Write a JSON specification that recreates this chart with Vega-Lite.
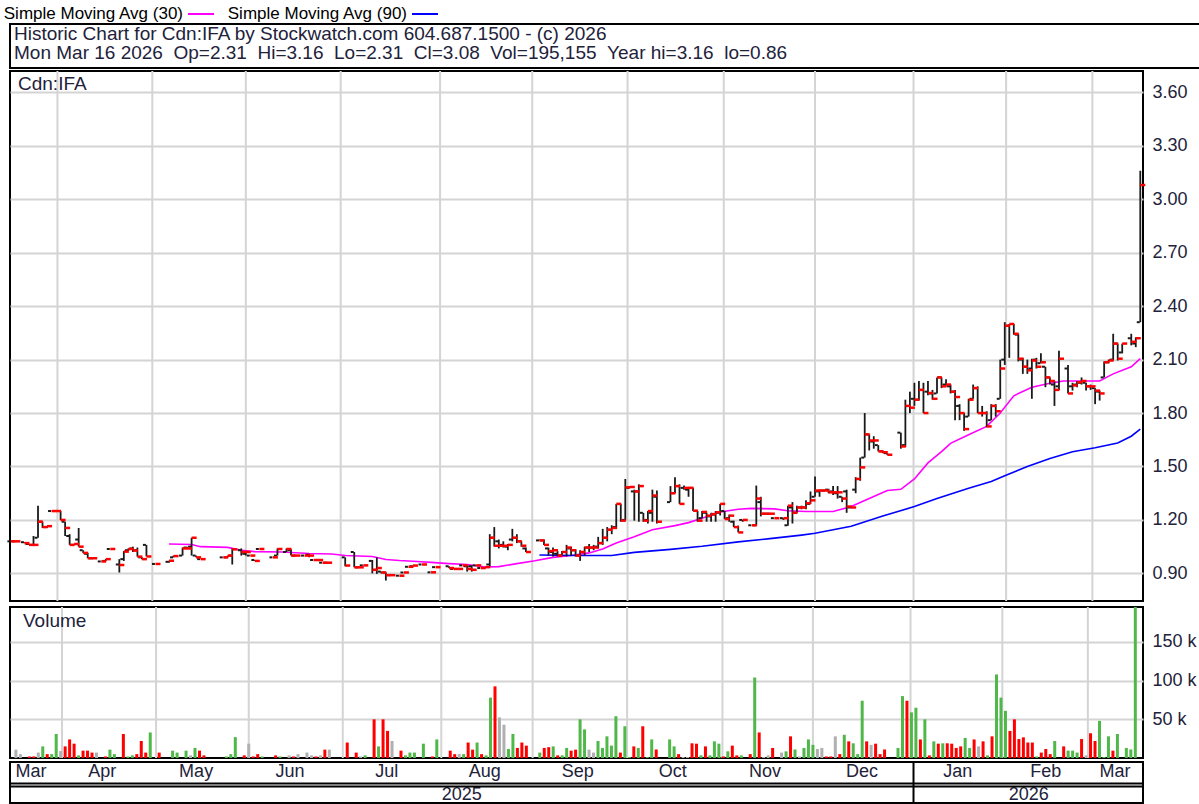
{
  "$schema": "https://vega.github.io/schema/vega-lite/v6.json",
  "background": "white",
  "padding": {"left": 6, "top": 0, "right": 0, "bottom": 0},
  "spacing": 2,
  "config": {
    "font": "Liberation Sans",
    "view": {"stroke": "#000000", "strokeWidth": 2},
    "axis": {"labelFont": "Liberation Sans", "labelFontSize": 18, "labelColor": "#22223a", "ticks": false, "domain": false, "gridColor": "#d4d4d4", "gridWidth": 2, "labelPadding": 9, "title": null, "labelOverlap": false, "labelFlush": false},
    "legend": {"labelFont": "Liberation Sans"}
  },
  "datasets": {
    "bars": [
      {"t":0,"o":1.08,"h":1.08,"l":1.08,"c":1.08,"v":10800,"d":"n"},
      {"t":1,"o":1.08,"h":1.08,"l":1.08,"c":1.08,"v":5000,"d":"n"},
      {"t":3,"o":1.075,"h":1.075,"l":1.07,"c":1.07,"v":2000,"d":"d"},
      {"t":4,"o":1.065,"h":1.065,"l":1.06,"c":1.06,"v":2000,"d":"d"},
      {"t":5,"o":1.06,"h":1.11,"l":1.06,"c":1.06,"v":7000,"d":"n"},
      {"t":6,"o":1.10,"h":1.28,"l":1.10,"c":1.19,"v":15000,"d":"u"},
      {"t":7,"o":1.19,"h":1.19,"l":1.155,"c":1.16,"v":5000,"d":"d"},
      {"t":8,"o":1.16,"h":1.165,"l":1.155,"c":1.165,"v":5000,"d":"u"},
      {"t":9,"o":1.25,"h":1.25,"l":1.25,"c":1.25,"v":31000,"d":"u"},
      {"t":10,"o":1.25,"h":1.25,"l":1.25,"c":1.25,"v":9000,"d":"n"},
      {"t":11,"o":1.25,"h":1.25,"l":1.20,"c":1.20,"v":15000,"d":"d"},
      {"t":12,"o":1.19,"h":1.19,"l":1.11,"c":1.155,"v":24000,"d":"d"},
      {"t":13,"o":1.11,"h":1.12,"l":1.06,"c":1.06,"v":18500,"d":"d"},
      {"t":14,"o":1.06,"h":1.065,"l":1.06,"c":1.065,"v":3400,"d":"u"},
      {"t":15,"o":1.09,"h":1.155,"l":1.05,"c":1.05,"v":9500,"d":"d"},
      {"t":16,"o":1.03,"h":1.03,"l":1.015,"c":1.015,"v":9500,"d":"d"},
      {"t":17,"o":1.01,"h":1.015,"l":0.985,"c":0.985,"v":7000,"d":"d"},
      {"t":18,"o":0.985,"h":0.985,"l":0.98,"c":0.985,"v":7000,"d":"n"},
      {"t":20,"o":0.967,"h":0.967,"l":0.967,"c":0.967,"v":2000,"d":"d"},
      {"t":21,"o":0.97,"h":0.98,"l":0.97,"c":0.98,"v":10800,"d":"u"},
      {"t":22,"o":1.037,"h":1.037,"l":1.037,"c":1.037,"v":5000,"d":"u"},
      {"t":24,"o":0.95,"h":0.98,"l":0.905,"c":0.947,"v":31000,"d":"d"},
      {"t":25,"o":0.98,"h":1.025,"l":0.97,"c":1.022,"v":2000,"d":"u"},
      {"t":26,"o":1.03,"h":1.04,"l":1.025,"c":1.037,"v":3400,"d":"u"},
      {"t":27,"o":1.04,"h":1.05,"l":1.02,"c":1.028,"v":5000,"d":"d"},
      {"t":28,"o":1.03,"h":1.045,"l":0.994,"c":0.994,"v":22000,"d":"d"},
      {"t":29,"o":0.99,"h":0.99,"l":0.98,"c":0.98,"v":7000,"d":"d"},
      {"t":30,"o":1.06,"h":1.06,"l":0.995,"c":0.995,"v":33000,"d":"u"},
      {"t":32,"o":0.953,"h":0.953,"l":0.953,"c":0.953,"v":7000,"d":"d"},
      {"t":35,"o":0.965,"h":0.971,"l":0.96,"c":0.971,"v":9500,"d":"u"},
      {"t":36,"o":0.99,"h":1.0,"l":0.99,"c":0.997,"v":7000,"d":"u"},
      {"t":38,"o":1.0,"h":1.045,"l":1.0,"c":1.04,"v":9500,"d":"u"},
      {"t":39,"o":1.045,"h":1.05,"l":1.04,"c":1.04,"v":3400,"d":"n"},
      {"t":40,"o":1.05,"h":1.10,"l":1.0,"c":1.10,"v":13000,"d":"u"},
      {"t":41,"o":1.0,"h":1.0,"l":0.99,"c":0.99,"v":9500,"d":"d"},
      {"t":42,"o":0.98,"h":0.98,"l":0.98,"c":0.98,"v":3400,"d":"d"},
      {"t":47,"o":0.99,"h":0.99,"l":0.99,"c":0.99,"v":2000,"d":"u"},
      {"t":48,"o":0.99,"h":1.0,"l":0.99,"c":1.0,"v":5000,"d":"u"},
      {"t":49,"o":1.0,"h":1.04,"l":0.95,"c":1.035,"v":27000,"d":"u"},
      {"t":51,"o":1.03,"h":1.04,"l":1.0,"c":1.02,"v":3400,"d":"d"},
      {"t":52,"o":1.01,"h":1.02,"l":1.0,"c":1.02,"v":18500,"d":"n"},
      {"t":53,"o":1.0,"h":1.0,"l":1.0,"c":1.0,"v":2000,"d":"d"},
      {"t":54,"o":0.975,"h":0.975,"l":0.97,"c":0.97,"v":5000,"d":"d"},
      {"t":55,"o":1.037,"h":1.037,"l":1.037,"c":1.037,"v":2000,"d":"u"},
      {"t":58,"o":0.99,"h":0.99,"l":0.99,"c":0.99,"v":3400,"d":"d"},
      {"t":59,"o":1.0,"h":1.04,"l":1.0,"c":1.037,"v":2000,"d":"u"},
      {"t":61,"o":1.02,"h":1.04,"l":1.02,"c":1.037,"v":3400,"d":"n"},
      {"t":62,"o":1.03,"h":1.035,"l":1.0,"c":1.0,"v":2000,"d":"d"},
      {"t":63,"o":1.0,"h":1.0,"l":1.0,"c":1.0,"v":5000,"d":"n"},
      {"t":65,"o":1.0,"h":1.0,"l":1.0,"c":1.0,"v":7000,"d":"n"},
      {"t":66,"o":1.005,"h":1.01,"l":0.99,"c":1.0,"v":3400,"d":"n"},
      {"t":67,"o":0.975,"h":0.975,"l":0.975,"c":0.975,"v":2000,"d":"d"},
      {"t":68,"o":0.975,"h":0.975,"l":0.97,"c":0.975,"v":3400,"d":"n"},
      {"t":69,"o":0.96,"h":0.96,"l":0.96,"c":0.96,"v":10800,"d":"d"},
      {"t":70,"o":0.96,"h":0.96,"l":0.953,"c":0.96,"v":10800,"d":"n"},
      {"t":74,"o":0.99,"h":0.99,"l":0.94,"c":0.944,"v":20000,"d":"d"},
      {"t":76,"o":1.02,"h":1.02,"l":0.934,"c":0.934,"v":7000,"d":"d"},
      {"t":77,"o":0.934,"h":0.934,"l":0.934,"c":0.934,"v":2000,"d":"n"},
      {"t":78,"o":0.945,"h":0.945,"l":0.945,"c":0.945,"v":3400,"d":"u"},
      {"t":80,"o":0.97,"h":0.975,"l":0.90,"c":0.92,"v":50000,"d":"d"},
      {"t":81,"o":0.92,"h":0.99,"l":0.897,"c":0.93,"v":15000,"d":"u"},
      {"t":82,"o":0.91,"h":0.91,"l":0.90,"c":0.905,"v":50000,"d":"d"},
      {"t":83,"o":0.905,"h":0.905,"l":0.86,"c":0.89,"v":35000,"d":"d"},
      {"t":84,"o":0.89,"h":0.897,"l":0.89,"c":0.89,"v":22000,"d":"n"},
      {"t":86,"o":0.887,"h":0.887,"l":0.887,"c":0.887,"v":9500,"d":"d"},
      {"t":87,"o":0.905,"h":0.905,"l":0.905,"c":0.905,"v":3400,"d":"u"},
      {"t":88,"o":0.937,"h":0.937,"l":0.937,"c":0.937,"v":7000,"d":"u"},
      {"t":89,"o":0.94,"h":0.945,"l":0.94,"c":0.944,"v":7000,"d":"u"},
      {"t":91,"o":0.95,"h":0.95,"l":0.95,"c":0.95,"v":18500,"d":"u"},
      {"t":93,"o":0.906,"h":0.906,"l":0.906,"c":0.906,"v":2000,"d":"d"},
      {"t":94,"o":0.935,"h":0.935,"l":0.935,"c":0.935,"v":24000,"d":"u"},
      {"t":97,"o":0.94,"h":0.94,"l":0.93,"c":0.93,"v":9500,"d":"d"},
      {"t":98,"o":0.925,"h":0.925,"l":0.925,"c":0.925,"v":5000,"d":"d"},
      {"t":99,"o":0.925,"h":0.925,"l":0.925,"c":0.925,"v":5000,"d":"n"},
      {"t":100,"o":0.945,"h":0.945,"l":0.945,"c":0.945,"v":5000,"d":"u"},
      {"t":101,"o":0.94,"h":0.945,"l":0.91,"c":0.925,"v":20000,"d":"d"},
      {"t":102,"o":0.94,"h":0.945,"l":0.91,"c":0.92,"v":10800,"d":"d"},
      {"t":103,"o":0.945,"h":0.945,"l":0.945,"c":0.945,"v":20000,"d":"u"},
      {"t":104,"o":0.93,"h":0.93,"l":0.93,"c":0.93,"v":5000,"d":"d"},
      {"t":105,"o":0.93,"h":0.935,"l":0.93,"c":0.935,"v":3400,"d":"u"},
      {"t":106,"o":0.95,"h":1.12,"l":0.94,"c":1.10,"v":78000,"d":"u"},
      {"t":107,"o":1.10,"h":1.16,"l":1.05,"c":1.055,"v":92600,"d":"d"},
      {"t":108,"o":1.08,"h":1.09,"l":1.04,"c":1.055,"v":52500,"d":"n"},
      {"t":109,"o":1.06,"h":1.08,"l":1.045,"c":1.055,"v":43000,"d":"n"},
      {"t":110,"o":1.05,"h":1.065,"l":1.03,"c":1.06,"v":11600,"d":"u"},
      {"t":111,"o":1.09,"h":1.15,"l":1.08,"c":1.10,"v":31000,"d":"u"},
      {"t":112,"o":1.10,"h":1.12,"l":1.07,"c":1.08,"v":13000,"d":"d"},
      {"t":113,"o":1.08,"h":1.08,"l":1.05,"c":1.055,"v":20000,"d":"d"},
      {"t":114,"o":1.04,"h":1.045,"l":1.02,"c":1.02,"v":16000,"d":"d"},
      {"t":117,"o":1.085,"h":1.09,"l":1.085,"c":1.085,"v":7000,"d":"u"},
      {"t":118,"o":1.085,"h":1.09,"l":1.06,"c":1.06,"v":13000,"d":"d"},
      {"t":119,"o":1.04,"h":1.045,"l":1.0,"c":1.025,"v":14000,"d":"d"},
      {"t":120,"o":1.02,"h":1.045,"l":0.995,"c":1.03,"v":15000,"d":"u"},
      {"t":121,"o":1.01,"h":1.025,"l":0.995,"c":1.0,"v":3400,"d":"d"},
      {"t":122,"o":1.0,"h":1.025,"l":1.0,"c":1.02,"v":3400,"d":"u"},
      {"t":123,"o":1.02,"h":1.06,"l":0.995,"c":1.045,"v":13000,"d":"u"},
      {"t":124,"o":1.04,"h":1.05,"l":1.0,"c":1.03,"v":9500,"d":"d"},
      {"t":125,"o":1.03,"h":1.035,"l":0.995,"c":1.0,"v":10800,"d":"d"},
      {"t":126,"o":1.0,"h":1.03,"l":0.97,"c":1.02,"v":50000,"d":"u"},
      {"t":127,"o":1.02,"h":1.05,"l":1.0,"c":1.045,"v":37000,"d":"u"},
      {"t":128,"o":1.045,"h":1.065,"l":1.02,"c":1.045,"v":10800,"d":"n"},
      {"t":129,"o":1.045,"h":1.06,"l":1.03,"c":1.045,"v":7000,"d":"n"},
      {"t":130,"o":1.05,"h":1.105,"l":1.04,"c":1.07,"v":22000,"d":"u"},
      {"t":131,"o":1.07,"h":1.15,"l":1.06,"c":1.10,"v":13000,"d":"u"},
      {"t":132,"o":1.10,"h":1.16,"l":1.08,"c":1.145,"v":28000,"d":"u"},
      {"t":133,"o":1.145,"h":1.17,"l":1.12,"c":1.155,"v":16000,"d":"u"},
      {"t":134,"o":1.16,"h":1.29,"l":1.15,"c":1.29,"v":54000,"d":"u"},
      {"t":135,"o":1.29,"h":1.29,"l":1.19,"c":1.196,"v":7000,"d":"d"},
      {"t":136,"o":1.20,"h":1.43,"l":1.196,"c":1.383,"v":41000,"d":"u"},
      {"t":137,"o":1.38,"h":1.39,"l":1.38,"c":1.385,"v":1300,"d":"u"},
      {"t":138,"o":1.36,"h":1.37,"l":1.196,"c":1.36,"v":15000,"d":"d"},
      {"t":139,"o":1.36,"h":1.40,"l":1.19,"c":1.39,"v":13000,"d":"u"},
      {"t":140,"o":1.24,"h":1.24,"l":1.19,"c":1.196,"v":41000,"d":"d"},
      {"t":141,"o":1.20,"h":1.25,"l":1.18,"c":1.25,"v":1300,"d":"u"},
      {"t":142,"o":1.24,"h":1.37,"l":1.19,"c":1.337,"v":24000,"d":"u"},
      {"t":143,"o":1.33,"h":1.365,"l":1.18,"c":1.19,"v":11000,"d":"d"},
      {"t":146,"o":1.30,"h":1.39,"l":1.30,"c":1.35,"v":24000,"d":"u"},
      {"t":147,"o":1.35,"h":1.44,"l":1.35,"c":1.39,"v":15000,"d":"u"},
      {"t":148,"o":1.39,"h":1.40,"l":1.29,"c":1.29,"v":5000,"d":"d"},
      {"t":149,"o":1.38,"h":1.393,"l":1.37,"c":1.38,"v":1300,"d":"n"},
      {"t":150,"o":1.37,"h":1.383,"l":1.33,"c":1.38,"v":1300,"d":"n"},
      {"t":151,"o":1.38,"h":1.38,"l":1.25,"c":1.252,"v":19000,"d":"d"},
      {"t":152,"o":1.25,"h":1.25,"l":1.19,"c":1.196,"v":18500,"d":"d"},
      {"t":153,"o":1.21,"h":1.25,"l":1.21,"c":1.245,"v":3400,"d":"u"},
      {"t":154,"o":1.24,"h":1.24,"l":1.19,"c":1.224,"v":15000,"d":"d"},
      {"t":155,"o":1.22,"h":1.24,"l":1.19,"c":1.233,"v":3400,"d":"u"},
      {"t":156,"o":1.23,"h":1.25,"l":1.19,"c":1.243,"v":21500,"d":"u"},
      {"t":157,"o":1.24,"h":1.29,"l":1.225,"c":1.29,"v":18500,"d":"u"},
      {"t":158,"o":1.25,"h":1.25,"l":1.205,"c":1.205,"v":2000,"d":"d"},
      {"t":159,"o":1.21,"h":1.23,"l":1.19,"c":1.224,"v":8600,"d":"u"},
      {"t":160,"o":1.19,"h":1.196,"l":1.16,"c":1.16,"v":16000,"d":"d"},
      {"t":161,"o":1.16,"h":1.168,"l":1.13,"c":1.13,"v":3400,"d":"d"},
      {"t":162,"o":1.20,"h":1.20,"l":1.19,"c":1.20,"v":3400,"d":"u"},
      {"t":164,"o":1.17,"h":1.17,"l":1.17,"c":1.17,"v":5000,"d":"d"},
      {"t":165,"o":1.17,"h":1.393,"l":1.168,"c":1.32,"v":104000,"d":"u"},
      {"t":166,"o":1.30,"h":1.33,"l":1.22,"c":1.235,"v":33000,"d":"d"},
      {"t":167,"o":1.235,"h":1.24,"l":1.23,"c":1.235,"v":1300,"d":"n"},
      {"t":168,"o":1.235,"h":1.235,"l":1.235,"c":1.235,"v":3400,"d":"n"},
      {"t":169,"o":1.21,"h":1.21,"l":1.21,"c":1.21,"v":13000,"d":"d"},
      {"t":171,"o":1.21,"h":1.21,"l":1.20,"c":1.21,"v":7000,"d":"n"},
      {"t":172,"o":1.17,"h":1.28,"l":1.168,"c":1.28,"v":8600,"d":"u"},
      {"t":173,"o":1.27,"h":1.30,"l":1.18,"c":1.24,"v":28000,"d":"d"},
      {"t":174,"o":1.24,"h":1.28,"l":1.24,"c":1.27,"v":11000,"d":"u"},
      {"t":175,"o":1.27,"h":1.28,"l":1.26,"c":1.27,"v":2000,"d":"n"},
      {"t":176,"o":1.27,"h":1.31,"l":1.26,"c":1.294,"v":13000,"d":"u"},
      {"t":177,"o":1.29,"h":1.36,"l":1.29,"c":1.31,"v":24000,"d":"u"},
      {"t":178,"o":1.33,"h":1.444,"l":1.33,"c":1.365,"v":17000,"d":"u"},
      {"t":179,"o":1.36,"h":1.37,"l":1.33,"c":1.365,"v":11600,"d":"n"},
      {"t":180,"o":1.365,"h":1.37,"l":1.36,"c":1.365,"v":13000,"d":"n"},
      {"t":181,"o":1.37,"h":1.375,"l":1.35,"c":1.355,"v":2000,"d":"d"},
      {"t":182,"o":1.36,"h":1.39,"l":1.34,"c":1.355,"v":2000,"d":"d"},
      {"t":183,"o":1.35,"h":1.39,"l":1.32,"c":1.355,"v":28000,"d":"n"},
      {"t":184,"o":1.33,"h":1.33,"l":1.30,"c":1.32,"v":5000,"d":"d"},
      {"t":185,"o":1.36,"h":1.37,"l":1.24,"c":1.275,"v":30000,"d":"u"},
      {"t":186,"o":1.27,"h":1.28,"l":1.265,"c":1.27,"v":21500,"d":"d"},
      {"t":187,"o":1.37,"h":1.44,"l":1.35,"c":1.43,"v":19000,"d":"u"},
      {"t":188,"o":1.43,"h":1.55,"l":1.42,"c":1.495,"v":5000,"d":"u"},
      {"t":189,"o":1.55,"h":1.80,"l":1.55,"c":1.68,"v":74000,"d":"u"},
      {"t":190,"o":1.68,"h":1.68,"l":1.59,"c":1.646,"v":21500,"d":"d"},
      {"t":191,"o":1.64,"h":1.67,"l":1.60,"c":1.646,"v":17000,"d":"n"},
      {"t":192,"o":1.62,"h":1.62,"l":1.585,"c":1.585,"v":18500,"d":"d"},
      {"t":193,"o":1.585,"h":1.59,"l":1.575,"c":1.58,"v":5000,"d":"d"},
      {"t":194,"o":1.575,"h":1.575,"l":1.565,"c":1.566,"v":11000,"d":"d"},
      {"t":197,"o":1.69,"h":1.69,"l":1.60,"c":1.6125,"v":13000,"d":"u"},
      {"t":198,"o":1.62,"h":1.875,"l":1.61,"c":1.84,"v":80000,"d":"u"},
      {"t":199,"o":1.84,"h":1.92,"l":1.80,"c":1.83,"v":74000,"d":"d"},
      {"t":200,"o":1.88,"h":1.97,"l":1.84,"c":1.875,"v":59000,"d":"u"},
      {"t":201,"o":1.875,"h":1.98,"l":1.87,"c":1.93,"v":65000,"d":"u"},
      {"t":202,"o":1.93,"h":1.97,"l":1.80,"c":1.80,"v":24000,"d":"d"},
      {"t":203,"o":1.92,"h":1.98,"l":1.90,"c":1.9125,"v":50000,"d":"u"},
      {"t":204,"o":1.91,"h":1.93,"l":1.875,"c":1.88,"v":3400,"d":"d"},
      {"t":205,"o":1.91,"h":2.0,"l":1.91,"c":2.0,"v":21500,"d":"u"},
      {"t":206,"o":2.0,"h":2.0,"l":1.94,"c":1.95,"v":18500,"d":"d"},
      {"t":207,"o":1.96,"h":1.99,"l":1.95,"c":1.96,"v":19000,"d":"u"},
      {"t":208,"o":1.95,"h":1.96,"l":1.91,"c":1.92,"v":19000,"d":"d"},
      {"t":209,"o":1.92,"h":1.93,"l":1.76,"c":1.89,"v":18500,"d":"d"},
      {"t":210,"o":1.84,"h":1.85,"l":1.76,"c":1.80,"v":13000,"d":"d"},
      {"t":211,"o":1.80,"h":1.80,"l":1.70,"c":1.71,"v":15000,"d":"d"},
      {"t":212,"o":1.78,"h":1.88,"l":1.78,"c":1.875,"v":26000,"d":"u"},
      {"t":213,"o":1.88,"h":1.96,"l":1.88,"c":1.94,"v":13000,"d":"u"},
      {"t":214,"o":1.94,"h":1.95,"l":1.80,"c":1.80,"v":24000,"d":"d"},
      {"t":215,"o":1.80,"h":1.84,"l":1.78,"c":1.80,"v":15000,"d":"n"},
      {"t":216,"o":1.80,"h":1.81,"l":1.72,"c":1.725,"v":21500,"d":"d"},
      {"t":217,"o":1.76,"h":1.85,"l":1.76,"c":1.84,"v":3400,"d":"u"},
      {"t":218,"o":1.84,"h":1.85,"l":1.78,"c":1.81,"v":28000,"d":"d"},
      {"t":219,"o":1.88,"h":2.10,"l":1.88,"c":2.05,"v":108000,"d":"u"},
      {"t":220,"o":2.10,"h":2.31,"l":2.07,"c":2.29,"v":78000,"d":"u"},
      {"t":221,"o":2.29,"h":2.30,"l":2.11,"c":2.30,"v":61000,"d":"u"},
      {"t":222,"o":2.30,"h":2.30,"l":2.24,"c":2.245,"v":35000,"d":"d"},
      {"t":223,"o":2.24,"h":2.245,"l":2.09,"c":2.105,"v":50000,"d":"d"},
      {"t":224,"o":2.10,"h":2.11,"l":2.02,"c":2.06,"v":24500,"d":"d"},
      {"t":225,"o":2.06,"h":2.10,"l":2.02,"c":2.04,"v":26700,"d":"d"},
      {"t":226,"o":2.05,"h":2.105,"l":1.88,"c":2.095,"v":20000,"d":"d"},
      {"t":227,"o":2.10,"h":2.11,"l":2.05,"c":2.06,"v":20000,"d":"d"},
      {"t":228,"o":2.08,"h":2.135,"l":2.08,"c":2.085,"v":2000,"d":"u"},
      {"t":229,"o":2.06,"h":2.06,"l":1.945,"c":2.0,"v":7000,"d":"d"},
      {"t":230,"o":2.0,"h":2.0,"l":1.96,"c":1.98,"v":11600,"d":"d"},
      {"t":231,"o":1.96,"h":1.98,"l":1.84,"c":1.93,"v":5000,"d":"d"},
      {"t":232,"o":1.95,"h":2.15,"l":1.93,"c":2.105,"v":22000,"d":"u"},
      {"t":234,"o":2.05,"h":2.07,"l":1.91,"c":1.91,"v":15000,"d":"d"},
      {"t":235,"o":1.95,"h":1.97,"l":1.926,"c":1.955,"v":9500,"d":"u"},
      {"t":236,"o":1.96,"h":1.98,"l":1.945,"c":1.973,"v":9500,"d":"u"},
      {"t":237,"o":1.97,"h":2.0,"l":1.96,"c":1.98,"v":7000,"d":"u"},
      {"t":238,"o":1.97,"h":1.97,"l":1.926,"c":1.95,"v":24500,"d":"d"},
      {"t":239,"o":1.95,"h":1.96,"l":1.93,"c":1.95,"v":3400,"d":"n"},
      {"t":240,"o":1.94,"h":1.94,"l":1.85,"c":1.926,"v":32000,"d":"d"},
      {"t":241,"o":1.92,"h":1.926,"l":1.87,"c":1.91,"v":22000,"d":"d"},
      {"t":242,"o":2.0,"h":2.09,"l":2.0,"c":2.085,"v":48000,"d":"u"},
      {"t":243,"o":2.085,"h":2.10,"l":2.08,"c":2.095,"v":1300,"d":"u"},
      {"t":244,"o":2.10,"h":2.245,"l":2.095,"c":2.19,"v":28000,"d":"u"},
      {"t":245,"o":2.19,"h":2.19,"l":2.095,"c":2.105,"v":9500,"d":"d"},
      {"t":246,"o":2.14,"h":2.19,"l":2.135,"c":2.19,"v":31000,"d":"u"},
      {"t":248,"o":2.22,"h":2.245,"l":2.18,"c":2.20,"v":13000,"d":"u"},
      {"t":249,"o":2.19,"h":2.225,"l":2.17,"c":2.22,"v":11000,"d":"u"},
      {"t":250,"o":2.31,"h":3.16,"l":2.31,"c":3.08,"v":195155,"d":"u"}
    ],
    "sma": [
      {"t":35,"s":"Simple Moving Avg (30)","p":1.065},{"t":40,"s":"Simple Moving Avg (30)","p":1.062},{"t":42,"s":"Simple Moving Avg (30)","p":1.05},{"t":48,"s":"Simple Moving Avg (30)","p":1.046},{"t":51,"s":"Simple Moving Avg (30)","p":1.03},{"t":54,"s":"Simple Moving Avg (30)","p":1.022},{"t":60,"s":"Simple Moving Avg (30)","p":1.02},{"t":66,"s":"Simple Moving Avg (30)","p":1.012},{"t":71,"s":"Simple Moving Avg (30)","p":1.009},{"t":74,"s":"Simple Moving Avg (30)","p":1.0},{"t":80,"s":"Simple Moving Avg (30)","p":0.995},{"t":83,"s":"Simple Moving Avg (30)","p":0.978},{"t":86,"s":"Simple Moving Avg (30)","p":0.972},{"t":89,"s":"Simple Moving Avg (30)","p":0.968},{"t":93,"s":"Simple Moving Avg (30)","p":0.962},{"t":97,"s":"Simple Moving Avg (30)","p":0.955},{"t":101,"s":"Simple Moving Avg (30)","p":0.95},{"t":105,"s":"Simple Moving Avg (30)","p":0.936},{"t":108,"s":"Simple Moving Avg (30)","p":0.938},{"t":112,"s":"Simple Moving Avg (30)","p":0.955},{"t":116,"s":"Simple Moving Avg (30)","p":0.971},{"t":120,"s":"Simple Moving Avg (30)","p":0.99},{"t":124,"s":"Simple Moving Avg (30)","p":1.0},{"t":128,"s":"Simple Moving Avg (30)","p":1.015},{"t":131,"s":"Simple Moving Avg (30)","p":1.037},{"t":134,"s":"Simple Moving Avg (30)","p":1.07},{"t":138,"s":"Simple Moving Avg (30)","p":1.105},{"t":142,"s":"Simple Moving Avg (30)","p":1.145},{"t":147,"s":"Simple Moving Avg (30)","p":1.168},{"t":150,"s":"Simple Moving Avg (30)","p":1.185},{"t":153,"s":"Simple Moving Avg (30)","p":1.21},{"t":157,"s":"Simple Moving Avg (30)","p":1.245},{"t":161,"s":"Simple Moving Avg (30)","p":1.26},{"t":164,"s":"Simple Moving Avg (30)","p":1.265},{"t":169,"s":"Simple Moving Avg (30)","p":1.262},{"t":172,"s":"Simple Moving Avg (30)","p":1.252},{"t":176,"s":"Simple Moving Avg (30)","p":1.247},{"t":182,"s":"Simple Moving Avg (30)","p":1.247},{"t":186,"s":"Simple Moving Avg (30)","p":1.275},{"t":190,"s":"Simple Moving Avg (30)","p":1.32},{"t":194,"s":"Simple Moving Avg (30)","p":1.365},{"t":197,"s":"Simple Moving Avg (30)","p":1.372},{"t":200,"s":"Simple Moving Avg (30)","p":1.43},{"t":203,"s":"Simple Moving Avg (30)","p":1.52},{"t":206,"s":"Simple Moving Avg (30)","p":1.584},{"t":208,"s":"Simple Moving Avg (30)","p":1.63},{"t":212,"s":"Simple Moving Avg (30)","p":1.678},{"t":216,"s":"Simple Moving Avg (30)","p":1.725},{"t":219,"s":"Simple Moving Avg (30)","p":1.80},{"t":222,"s":"Simple Moving Avg (30)","p":1.897},{"t":226,"s":"Simple Moving Avg (30)","p":1.945},{"t":230,"s":"Simple Moving Avg (30)","p":1.967},{"t":233,"s":"Simple Moving Avg (30)","p":1.98},{"t":241,"s":"Simple Moving Avg (30)","p":1.98},{"t":244,"s":"Simple Moving Avg (30)","p":2.02},{"t":248,"s":"Simple Moving Avg (30)","p":2.06},{"t":250,"s":"Simple Moving Avg (30)","p":2.105},
      {"t":117,"s":"Simple Moving Avg (90)","p":1.003},{"t":125,"s":"Simple Moving Avg (90)","p":1.0},{"t":133,"s":"Simple Moving Avg (90)","p":1.0},{"t":138,"s":"Simple Moving Avg (90)","p":1.018},{"t":146,"s":"Simple Moving Avg (90)","p":1.035},{"t":153,"s":"Simple Moving Avg (90)","p":1.052},{"t":161,"s":"Simple Moving Avg (90)","p":1.077},{"t":168,"s":"Simple Moving Avg (90)","p":1.095},{"t":175,"s":"Simple Moving Avg (90)","p":1.115},{"t":178,"s":"Simple Moving Avg (90)","p":1.125},{"t":186,"s":"Simple Moving Avg (90)","p":1.165},{"t":193,"s":"Simple Moving Avg (90)","p":1.222},{"t":200,"s":"Simple Moving Avg (90)","p":1.275},{"t":205,"s":"Simple Moving Avg (90)","p":1.32},{"t":212,"s":"Simple Moving Avg (90)","p":1.378},{"t":217,"s":"Simple Moving Avg (90)","p":1.416},{"t":220,"s":"Simple Moving Avg (90)","p":1.448},{"t":225,"s":"Simple Moving Avg (90)","p":1.50},{"t":230,"s":"Simple Moving Avg (90)","p":1.545},{"t":235,"s":"Simple Moving Avg (90)","p":1.583},{"t":240,"s":"Simple Moving Avg (90)","p":1.605},{"t":245,"s":"Simple Moving Avg (90)","p":1.632},{"t":248,"s":"Simple Moving Avg (90)","p":1.67},{"t":250,"s":"Simple Moving Avg (90)","p":1.71}
    ],
    "bounds": [{"b":10.3},{"b":31.3},{"b":52},{"b":73},{"b":95},{"b":115.4},{"b":136.5},{"b":157.8},{"b":178},{"b":199.8},{"b":220.3},{"b":239.4}],
    "months": [{"m":"Mar","t":4.45},{"m":"Apr","t":20.2},{"m":"May","t":41},{"m":"Jun","t":61.8},{"m":"Jul","t":83.2},{"m":"Aug","t":104.9},{"m":"Sep","t":125.5},{"m":"Oct","t":146.5},{"m":"Nov","t":166.9},{"m":"Dec","t":188.4},{"m":"Jan","t":209.6},{"m":"Feb","t":229.1},{"m":"Mar","t":244.4}],
    "years": [{"y":"2025","t":99.8},{"y":"2026","t":225.3}],
    "yearsplit": [{"b":199.8}],
    "rowlines": [{"r":0.476},{"r":0.405}]
  },
  "vconcat": [
    {
      "spacing": 0,
      "vconcat": [
        {
          "width": 1190,
          "height": 44,
          "data": {"values": [
            {"line": 1, "text": "Historic Chart for Cdn:IFA by Stockwatch.com 604.687.1500 - (c) 2026"},
            {"line": 2, "text": "Mon Mar 16 2026 \u00a0Op=2.31 \u00a0Hi=3.16 \u00a0Lo=2.31 \u00a0Cl=3.08 \u00a0Vol=195,155 \u00a0Year hi=3.16 \u00a0lo=0.86"}
          ]},
          "mark": {"type": "text", "align": "left", "baseline": "middle", "fontSize": 19, "color": "#22223a", "dx": 4},
          "encoding": {
            "x": {"datum": 0, "type": "quantitative", "scale": {"domain": [0, 1]}, "axis": null},
            "y": {"field": "line", "type": "quantitative", "scale": {"domain": [0.474, 2.79], "reverse": true, "nice": false, "zero": false}, "axis": null},
            "text": {"field": "text"}
          }
        },
        {
          "width": 1133,
          "height": 530,
          "layer": [
            {
              "data": {"name": "bounds"},
              "mark": {"type": "rule", "color": "#d4d4d4", "strokeWidth": 2},
              "encoding": {
                "x": {"field": "b", "type": "quantitative", "scale": {"domain": [-0.2, 250.6], "nice": false, "zero": false}, "axis": null}
              }
            },
            {
              "data": {"name": "sma"},
              "mark": {"type": "line", "strokeWidth": 1.6, "interpolate": "linear"},
              "encoding": {
                "x": {"field": "t", "type": "quantitative"},
                "y": {"field": "p", "type": "quantitative", "scale": {"domain": [0.745, 3.72], "nice": false, "zero": false},
                      "axis": {"orient": "right", "values": [0.9,1.05,1.2,1.35,1.5,1.65,1.8,1.95,2.1,2.25,2.4,2.55,2.7,2.85,3.0,3.15,3.3,3.45,3.6], "format": ".2f", "grid": true}},
                "stroke": {"field": "s", "type": "nominal",
                           "scale": {"domain": ["Simple Moving Avg (30)", "Simple Moving Avg (90)"], "range": ["#ff00ff", "#0000ff"]},
                           "legend": {"orient": "none", "legendX": 177, "legendY": -24, "direction": "horizontal", "title": null,
                                      "symbolType": "stroke", "symbolSize": 676, "symbolStrokeWidth": 2,
                                      "labelFontSize": 17, "labelColor": "#000000", "labelAlign": "right", "labelOffset": -32, "labelLimit": 0,
                                      "columnPadding": 8, "padding": 0}}
              }
            },
            {
              "data": {"name": "bars"},
              "mark": {"type": "rule", "color": "#1a1a1a", "strokeWidth": 1.8},
              "encoding": {
                "x": {"field": "t", "type": "quantitative"},
                "y": {"field": "l", "type": "quantitative"},
                "y2": {"field": "h"}
              }
            },
            {
              "data": {"name": "bars"},
              "mark": {"type": "tick", "orient": "horizontal", "color": "#1a1a1a", "size": 3, "thickness": 2, "xOffset": -2, "opacity": 1},
              "encoding": {
                "x": {"field": "t", "type": "quantitative"},
                "y": {"field": "o", "type": "quantitative"}
              }
            },
            {
              "data": {"name": "bars"},
              "mark": {"type": "tick", "orient": "horizontal", "color": "#ff0000", "size": 5, "thickness": 2.5, "xOffset": 2.5, "opacity": 1},
              "encoding": {
                "x": {"field": "t", "type": "quantitative"},
                "y": {"field": "c", "type": "quantitative"}
              }
            },
            {
              "data": {"values": [{"label": "Cdn:IFA"}]},
              "mark": {"type": "text", "align": "left", "baseline": "top", "dx": 8, "dy": 4, "fontSize": 19, "color": "#22223a"},
              "encoding": {
                "x": {"datum": -0.2, "type": "quantitative"},
                "y": {"datum": 3.72, "type": "quantitative"},
                "text": {"field": "label"}
              }
            }
          ]
        }
      ]
    },
    {
      "spacing": 0,
      "vconcat": [
        {
          "width": 1133,
          "height": 151,
          "layer": [
            {
              "data": {"name": "bounds"},
              "mark": {"type": "rule", "color": "#d4d4d4", "strokeWidth": 2},
              "encoding": {
                "x": {"field": "b", "type": "quantitative", "scale": {"domain": [-0.2, 250.6], "nice": false, "zero": false}, "axis": null}
              }
            },
            {
              "data": {"name": "bars"},
              "mark": {"type": "bar", "size": 3},
              "encoding": {
                "x": {"field": "t", "type": "quantitative"},
                "y": {"field": "v", "type": "quantitative", "scale": {"domain": [0, 195155], "nice": false},
                      "axis": {"orient": "right", "values": [50000, 100000, 150000], "labelExpr": "format(datum.value / 1000, 'd') + ' k'", "grid": true}},
                "color": {"field": "d", "type": "nominal", "scale": {"domain": ["u", "d", "n"], "range": ["#4fb848", "#ff0000", "#b0b0b0"]}, "legend": null}
              }
            },
            {
              "data": {"values": [{"label": "Volume"}]},
              "mark": {"type": "text", "align": "left", "baseline": "top", "dx": 8, "dy": 5, "fontSize": 19, "color": "#22223a"},
              "encoding": {
                "x": {"datum": -0.2, "type": "quantitative"},
                "y": {"datum": 195155, "type": "quantitative"},
                "text": {"field": "label"}
              }
            }
          ]
        },
        {
          "width": 1133,
          "height": 41,
          "layer": [
            {
              "data": {"name": "months"},
              "mark": {"type": "text", "baseline": "middle", "align": "center", "fontSize": 18, "color": "#22223a"},
              "encoding": {
                "x": {"field": "t", "type": "quantitative", "scale": {"domain": [-0.2, 250.6], "nice": false, "zero": false}, "axis": null},
                "y": {"datum": 0.75, "type": "quantitative", "scale": {"domain": [0, 1], "nice": false}, "axis": null},
                "text": {"field": "m"}
              }
            },
            {
              "data": {"name": "years"},
              "mark": {"type": "text", "baseline": "middle", "align": "center", "fontSize": 18, "color": "#22223a"},
              "encoding": {
                "x": {"field": "t", "type": "quantitative"},
                "y": {"datum": 0.2, "type": "quantitative"},
                "text": {"field": "y"}
              }
            },
            {
              "data": {"name": "rowlines"},
              "mark": {"type": "rule", "color": "#000000", "strokeWidth": 2},
              "encoding": {"y": {"field": "r", "type": "quantitative"}}
            },
            {
              "data": {"name": "yearsplit"},
              "mark": {"type": "rule", "color": "#000000", "strokeWidth": 2},
              "encoding": {"x": {"field": "b", "type": "quantitative"}}
            }
          ]
        }
      ]
    }
  ]
}
